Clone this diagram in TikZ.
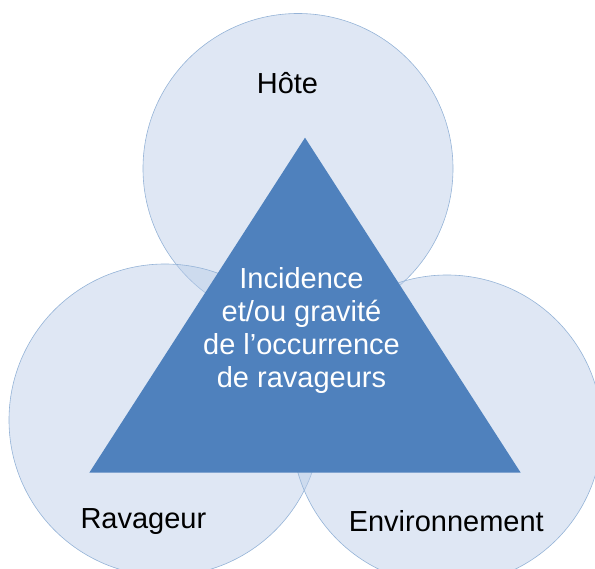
\documentclass[tikz,border=0pt]{standalone}
\usepackage{fontspec}
\setmainfont{Liberation Sans}
\definecolor{ringfill}{RGB}{186,205,232}
\definecolor{ringline}{RGB}{149,179,215}
\definecolor{coreblue}{RGB}{79,129,189}
\newcommand{\bigtxt}{\fontsize{29}{33}\selectfont}
\tikzset{
  ring/.style={circle,draw=ringline,line width=0.6pt,fill=ringfill,fill opacity=0.47,minimum size=310pt,inner sep=0pt},
  factor/.style={anchor=base,inner sep=0pt,font=\bigtxt}
}
\begin{document}
\begin{tikzpicture}[x=1pt,y=-1pt]
    \useasboundingbox (0,0) rectangle (595,569);
    \clip (0,0) rectangle (595,569);
    % the three rings
    \node[ring] (host) at (298,168.5) {};
    \node[ring,minimum size=312pt] (pest) at (165,420) {};
    \node[ring] (env) at (447,430) {};
    % the triangle on top
    \coordinate (apex) at (305,137.7);
    \coordinate (bl) at (89.3,472.7);
    \coordinate (br) at (520.7,472.7);
    \fill[coreblue] (apex) -- (bl) -- (br) -- cycle;
    \node[inner sep=0pt,align=center,text=white,font=\bigtxt] (core) at (301.5,330.3)
      {Incidence\\et/ou gravité\\de l’occurrence\\de ravageurs};
    % names of the rings
    \node[factor] (hostname) at (287.5,93.3) {Hôte};
    \node[factor] (pestname) at (143.4,528) {Ravageur};
    \node[factor] (envname) at (446.3,531) {Environnement};
  \end{tikzpicture}
\end{document}
